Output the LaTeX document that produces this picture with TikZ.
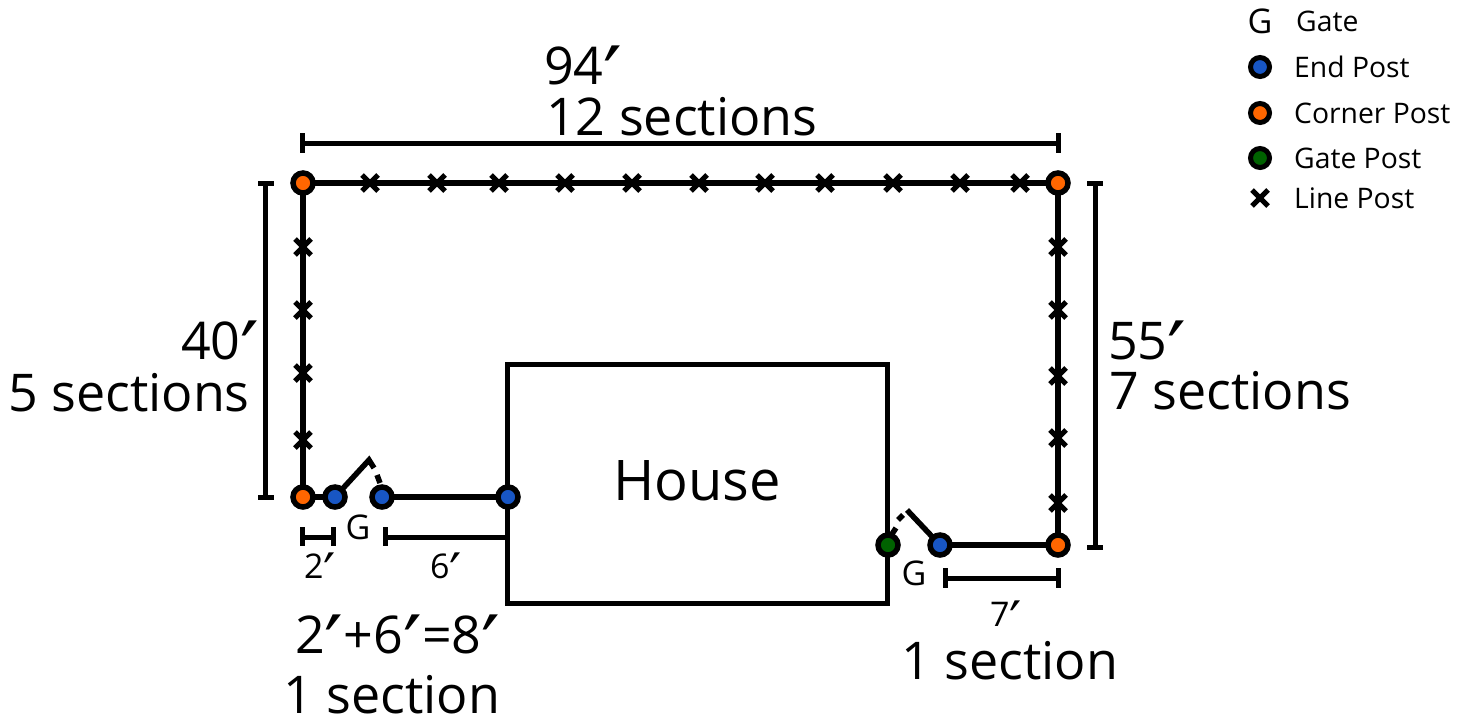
\documentclass[tikz,border=0pt]{standalone}
\usepackage{fontspec}
\setmainfont{Open Sans}
\newfontfamily\primefont[Scale=1.6]{DejaVu Sans}
\newcommand{\prm}{\smash{\lower0.43em\hbox{\primefont ′}}}
\usetikzlibrary{shapes.misc}
\definecolor{postblue}{RGB}{24,86,196}
\definecolor{postorange}{RGB}{255,102,0}
\definecolor{postgreen}{RGB}{0,98,0}
\tikzset{
  x=1pt,y=-1pt,
  postdot/.style={circle,draw=black,line width=5.5pt,minimum size=20pt,inner sep=0pt,outer sep=0pt},
  endpost/.style={postdot,fill=postblue},
  cornerpost/.style={postdot,fill=postorange},
  gatepost/.style={postdot,fill=postgreen},
  linepost/.style={cross out,draw=black,line width=5pt,minimum size=16pt,inner sep=0pt,outer sep=0pt},
  fence/.style={line width=5.5pt,draw=black},
  house wall/.style={line width=5pt,draw=black,line join=miter},
  dimline/.style={line width=5pt,draw=black},
  bigtxt/.style={font=\fontsize{52}{52}\selectfont,inner sep=0pt,anchor=base west},
  medtxt/.style={font=\fontsize{34}{40}\selectfont,inner sep=0pt},
  smalltxt/.style={font=\fontsize{28.3}{34}\selectfont,inner sep=0pt,anchor=west},
}
\begin{document}
\begin{tikzpicture}
\useasboundingbox (0,0) rectangle (1470,720);
\fill[white] (0,0) rectangle (1470,720);
% coordinates
\coordinate (hTL) at (507.5,364);
\coordinate (hTR) at (887.5,364);
\coordinate (hBR) at (887.5,603);
\coordinate (hBL) at (507.5,603);
% house
\draw[house wall] (hTL) -- (hTR) -- (hBR) -- (hBL) -- cycle;
\node[font=\fontsize{56}{66}\selectfont,inner sep=0pt] (house) at (697,481) {House};
% fence
\coordinate (TL) at (303,183);
\coordinate (TR) at (1058,183);
\coordinate (BL) at (303,497);
\coordinate (BR) at (1058,545);
\coordinate (EA) at (335,497);
\coordinate (EB) at (382,497);
\coordinate (EC) at (508,497);
\coordinate (ED) at (940,545);
\coordinate (GP) at (888,545);
\draw[fence] (BL) -- (TL) -- (TR) -- (BR) -- (ED);
\draw[fence] (BL) -- (EA);
\draw[fence] (EB) -- (EC);
% gates
\coordinate (g1) at (369,460);
\coordinate (g2) at (374,468);
\coordinate (g3) at (377,475);
\coordinate (g4) at (380,483);
\draw[fence,line join=miter] (EA) -- (g1) -- (g2);
\draw[fence] (g3) -- (g4);
\coordinate (r1) at (907,510);
\coordinate (r2) at (903,515);
\coordinate (r3) at (898,520);
\coordinate (r4) at (896,528);
\coordinate (r5) at (892,534);
\draw[fence] (ED) -- (r1);
\draw[fence] (r2) -- (r3);
\draw[fence] (r4) -- (r5);
% line posts
\foreach \i/\x in {1/370,2/437,3/499,4/565,5/632,6/699,7/765,8/825,9/893,10/960,11/1020}
  \node[linepost] (t\i) at (\x,183) {};
\foreach \i/\y in {1/247,2/310,3/373,4/440}
  \node[linepost] (l\i) at (303,\y) {};
\foreach \i/\y in {1/247,2/310,3/376,4/438,5/503}
  \node[linepost] (r\i) at (1058,\y) {};
% posts
\node[cornerpost] (nTL) at (TL) {};
\node[cornerpost] (nTR) at (TR) {};
\node[cornerpost] (nBL) at (BL) {};
\node[cornerpost] (nBR) at (BR) {};
\node[endpost] (nEA) at (EA) {};
\node[endpost] (nEB) at (EB) {};
\node[endpost] (nEC) at (EC) {};
\node[endpost] (nED) at (ED) {};
\node[gatepost] (nGP) at (GP) {};
% dimension lines
\coordinate (d1a) at (302,143); \coordinate (d1b) at (1058,143);
\draw[dimline] (d1a) -- (d1b);
\draw[dimline] (302,133) -- (302,153);
\draw[dimline] (1058,133) -- (1058,153);
\coordinate (d2a) at (265,183); \coordinate (d2b) at (265,497);
\draw[dimline] (d2a) -- (d2b);
\draw[dimline] (258,183) -- (274,183);
\draw[dimline] (258,497) -- (274,497);
\coordinate (d3a) at (1095,183); \coordinate (d3b) at (1095,547);
\draw[dimline] (d3a) -- (d3b);
\draw[dimline] (1087,183) -- (1103,183);
\draw[dimline] (1087,547) -- (1103,547);
\coordinate (d4a) at (302,537); \coordinate (d4b) at (333,537);
\draw[dimline] (d4a) -- (d4b);
\draw[dimline] (302,527) -- (302,546);
\draw[dimline] (333,527) -- (333,546);
\coordinate (d5a) at (385,537); \coordinate (d5b) at (508,537);
\draw[dimline] (d5a) -- (d5b);
\draw[dimline] (385,527) -- (385,546);
\coordinate (d6a) at (945,578); \coordinate (d6b) at (1058,578);
\draw[dimline] (d6a) -- (d6b);
\draw[dimline] (945,568) -- (945,588);
\draw[dimline] (1058,568) -- (1058,588);
% big labels
\node[bigtxt] (top1) at (544,84) {94\prm};
\node[bigtxt] (top2) at (546,135) {12 sections};
\node[bigtxt] (left1) at (181,359) {40\prm};
\node[bigtxt] (left2) at (8,411) {5 sections};
\node[bigtxt] (right1) at (1108,359) {55\prm};
\node[bigtxt] (right2) at (1109,409) {7 sections};
\node[bigtxt] (bl1) at (295,653) {2\prm+6\prm=8\prm};
\node[bigtxt] (bl2) at (283,713) {1 section};
\node[bigtxt] (br) at (901,679) {1 section};
% small labels
\node[medtxt] (G1) at (358,527) {G};
\node[medtxt] (G2) at (914,573) {G};
\node[medtxt,anchor=base] (m2) at (320,578) {2\prm};
\node[medtxt,anchor=base] (m6) at (446,578) {6\prm};
\node[medtxt,anchor=base] (m7) at (1006,626) {7\prm};
% legend
\node[medtxt] (lg) at (1260,21) {G};
\node[smalltxt] (lgt) at (1296,21) {Gate};
\node[postdot,fill=postblue,line width=5pt,minimum size=19pt] (le) at (1260,67) {};
\node[smalltxt] (let) at (1294,67) {End Post};
\node[postdot,fill=postorange,line width=5pt,minimum size=19pt] (lc) at (1260,113) {};
\node[smalltxt] (lct) at (1294,113) {Corner Post};
\node[postdot,fill=postgreen,line width=5pt,minimum size=19pt] (lgp) at (1260,158) {};
\node[smalltxt] (lgpt) at (1294,158) {Gate Post};
\node[linepost] (ll) at (1260,198) {};
\node[smalltxt] (llt) at (1294,198) {Line Post};
\end{tikzpicture}
\end{document}
